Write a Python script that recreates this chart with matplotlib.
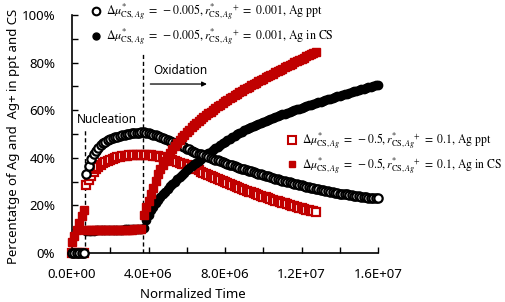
import numpy as np
import matplotlib
matplotlib.use("Agg")
import matplotlib.pyplot as plt
from matplotlib.ticker import FuncFormatter, MultipleLocator
from matplotlib.lines import Line2D

# ---------------- data (percent, sampled every time_step of normalized time) ----------------
time_step = 0.125e6
black_ppt = [0, 0, 0, 0, 0, 0,
             33.0, 36.5, 39.5, 41.5, 43.0, 44.2, 45.3, 46.1, 46.8, 47.3, 47.8, 48.2, 48.6,
             48.9, 49.2, 49.5, 49.7, 49.9, 50.1, 50.3, 50.4, 50.5, 50.6, 50.7, 50.7,
             50.5, 50.3, 50.0, 49.7, 49.4, 49.0, 48.6, 48.2, 47.8, 47.4, 47.0, 46.6, 46.2,
             45.7, 45.3, 44.8, 44.4, 43.9, 43.5, 43.0, 42.6, 42.2, 41.8, 41.4, 41.0, 40.6,
             40.3, 39.9, 39.6, 39.2, 38.9, 38.5, 38.2, 37.8, 37.5, 37.1, 36.8, 36.4, 36.1,
             35.8, 35.5, 35.2, 34.9, 34.6, 34.3, 34.0, 33.7, 33.4, 33.1, 32.8, 32.5, 32.2,
             31.9, 31.6, 31.3, 31.0, 30.7, 30.4, 30.2, 29.9, 29.7, 29.4, 29.2, 28.9, 28.7,
             28.4, 28.2, 27.9, 27.7, 27.4, 27.2, 27.0, 26.8, 26.6, 26.4, 26.2, 26.0, 25.8,
             25.6, 25.4, 25.2, 25.0, 24.9, 24.7, 24.6, 24.4, 24.3, 24.1, 24.0, 23.8, 23.7,
             23.5, 23.4, 23.3, 23.2, 23.1, 23.0, 22.9]
black_cs = [0, 0, 0, 0, 0, 0,
            9.3, 9.35, 9.4, 9.45, 9.5, 9.55, 9.6, 9.6, 9.6, 9.65, 9.7, 9.75, 9.8, 9.8,
            9.8, 9.85, 9.9, 9.95, 10.0, 10.0, 10.0, 10.05, 10.1, 10.2, 10.5,
            13.8, 16.0, 17.9, 19.5, 21.0, 22.3, 23.5, 24.7, 25.8, 26.9, 28.0, 29.0, 30.0,
            31.0, 32.0, 32.9, 33.8, 34.7, 35.6, 36.4, 37.2, 38.0, 38.8, 39.6, 40.4, 41.1,
            41.9, 42.6, 43.3, 44.0, 44.7, 45.4, 46.1, 46.7, 47.4, 48.0, 48.6, 49.2, 49.8,
            50.4, 51.0, 51.5, 52.0, 52.5, 53.0, 53.4, 53.9, 54.3, 54.8, 55.2, 55.6, 56.0,
            56.4, 56.8, 57.2, 57.5, 57.9, 58.2, 58.6, 58.9, 59.3, 59.6, 60.0, 60.3, 60.7,
            61.0, 61.4, 61.7, 62.0, 62.3, 62.7, 63.0, 63.3, 63.6, 63.9, 64.2, 64.6, 64.9,
            65.2, 65.5, 65.8, 66.1, 66.4, 66.7, 67.0, 67.3, 67.6, 67.9, 68.2, 68.5, 68.7,
            69.0, 69.3, 69.6, 69.8, 70.1, 70.4, 70.7]
red_ppt = [0, 0, 0, 0, 0, 0,
           28.5, 30.7, 32.5, 34.0, 35.2, 36.2, 37.0, 37.7, 38.3, 38.8, 39.2, 39.6, 39.9,
           40.2, 40.4, 40.6, 40.8, 40.9, 41.0, 41.1, 41.1, 41.2, 41.2, 41.2, 41.2,
           41.2, 41.1, 41.0, 40.9, 40.8, 40.6, 40.4, 40.2, 40.0, 39.7, 39.4, 39.1, 38.8,
           38.4, 38.0, 37.6, 37.2, 36.8, 36.4, 36.0, 35.6, 35.1, 34.7, 34.2, 33.8, 33.3,
           32.9, 32.4, 32.0, 31.5, 31.1, 30.6, 30.2, 29.7, 29.3, 28.9, 28.5, 28.1, 27.7,
           27.3, 26.9, 26.5, 26.2, 25.8, 25.5, 25.1, 24.8, 24.4, 24.1, 23.7, 23.4, 23.0,
           22.7, 22.3, 22.0, 21.7, 21.4, 21.1, 20.8, 20.5, 20.2, 19.9, 19.6, 19.3, 19.0,
           18.7, 18.5, 18.2, 18.0, 17.7, 17.5, 17.2]
red_cs = [4.5, 7.0, 9.5, 12.5, 15.5, 18.0,
          9.5, 9.5, 9.5, 9.55, 9.6, 9.6, 9.6, 9.65, 9.7, 9.7, 9.7, 9.7, 9.75, 9.75,
          9.8, 9.8, 9.8, 9.8, 9.85, 9.85, 9.9, 9.9, 9.9, 9.95, 16.0,
          19.2, 22.0, 24.8, 27.5, 30.3, 33.0, 35.1, 37.0, 38.8, 40.5, 42.0, 43.5, 44.9,
          46.2, 47.4, 48.6, 49.7, 50.8, 51.8, 52.8, 53.7, 54.6, 55.5, 56.3, 57.1, 57.9,
          58.7, 59.4, 60.2, 60.9, 61.6, 62.3, 63.0, 63.7, 64.4, 65.0, 65.7, 66.3, 66.9,
          67.5, 68.1, 68.7, 69.3, 69.9, 70.5, 71.0, 71.6, 72.1, 72.7, 73.2, 73.8, 74.3,
          74.8, 75.3, 75.9, 76.4, 77.0, 77.5, 78.1, 78.6, 79.1, 79.6, 80.1, 80.6, 81.1,
          81.6, 82.1, 82.6, 83.1, 83.6, 84.1, 84.5]

x_ticks = [0, 4e6, 8e6, 12e6, 16e6]
y_ticks = [0, 20, 40, 60, 80, 100]
nucleation_t = 0.7e6
oxidation_t = 3.72e6

legend_black = [r"$\Delta\mu^{*}_{\mathrm{CS},Ag}\ =\ -0.005, {r^{*}_{\mathrm{CS},Ag}}^{+}\ =\ 0.001$, Ag ppt",
                r"$\Delta\mu^{*}_{\mathrm{CS},Ag}\ =\ -0.005, {r^{*}_{\mathrm{CS},Ag}}^{+}\ =\ 0.001$, Ag in CS"]
legend_red = [r"$\Delta\mu^{*}_{\mathrm{CS},Ag}\ =\ -0.5, {r^{*}_{\mathrm{CS},Ag}}^{+}\ =\ 0.1$, Ag ppt",
              r"$\Delta\mu^{*}_{\mathrm{CS},Ag}\ =\ -0.5, {r^{*}_{\mathrm{CS},Ag}}^{+}\ =\ 0.1$, Ag in CS"]

RED = "#C00000"
plt.rcParams["font.family"] = ["Noto Sans", "DejaVu Sans"]
plt.rcParams["mathtext.fontset"] = "stix"

t_bp = np.arange(len(black_ppt)) * time_step
t_bc = np.arange(len(black_cs)) * time_step
t_rp = np.arange(len(red_ppt)) * time_step
t_rc = np.arange(len(red_cs)) * time_step

fig = plt.figure(figsize=(5.05, 3.02), dpi=100)
ax = fig.add_axes([72/505, 1-253/302, (378-72)/505, (253-15)/302])

ms = 6.0
ax.plot(t_rp, red_ppt, ls="none", marker="s", ms=ms, mfc="white", mec=RED, mew=1.6, clip_on=False, zorder=3)
ax.plot(t_bc, black_cs, ls="none", marker="o", ms=ms, mfc="black", mec="black", mew=1.0, clip_on=False, zorder=4)
ax.plot(t_bp, black_ppt, ls="none", marker="o", ms=ms, mfc="white", mec="black", mew=1.6, clip_on=False, zorder=5)
ax.plot(t_rc, red_cs, ls="none", marker="s", ms=ms, mfc=RED, mec=RED, mew=1.0, clip_on=False, zorder=6)

ax.set_xlim(0, 16e6)
ax.set_ylim(0, 100)
for s in ["top", "right"]:
    ax.spines[s].set_visible(False)
for s in ["left", "bottom"]:
    ax.spines[s].set_linewidth(1.2)
ax.set_xticks(x_ticks)
ax.set_yticks(y_ticks)
ax.xaxis.set_minor_locator(MultipleLocator(2e6))
ax.yaxis.set_minor_locator(MultipleLocator(10))
ax.xaxis.set_major_formatter(FuncFormatter(lambda v, p: "%.1E" % v))
ax.yaxis.set_major_formatter(FuncFormatter(lambda v, p: "%d%%" % v))
ax.tick_params(which="both", direction="in", length=4, width=1.0, labelsize=9.5)
ax.tick_params(axis="x", pad=11)
ax.tick_params(axis="y", pad=12)

# dashed phase lines
ax.plot([nucleation_t, nucleation_t], [0, 52], ls=(0, (3, 2)), color="black", lw=1.0, zorder=2)
ax.plot([oxidation_t, oxidation_t], [0, 84], ls=(0, (3, 2)), color="black", lw=1.0, zorder=2)
ax.text(0.25e6, 56, "Nucleation", fontsize=8.5, ha="left", va="center")
ax.text(4.25e6, 76.5, "Oxidation", fontsize=8.5, ha="left", va="center")
ax.annotate("", xy=(7.2e6, 71), xytext=(3.95e6, 71),
            arrowprops=dict(arrowstyle="-|>", color="black", lw=0.9, mutation_scale=7))

fig.text(14/505, 1-136/302, "Percentatge of Ag and  Ag+ in ppt and CS", rotation=90,
         ha="center", va="center", fontsize=9.5)
fig.text(193/505, 1-295/302, "Normalized Time", ha="center", va="center", fontsize=9.5)

h_black = [Line2D([], [], ls="none", marker="o", ms=5.5, mfc="white", mec="black", mew=1.5),
           Line2D([], [], ls="none", marker="o", ms=5.0, mfc="black", mec="black")]
h_red = [Line2D([], [], ls="none", marker="s", ms=5.5, mfc="white", mec=RED, mew=1.5),
         Line2D([], [], ls="none", marker="s", ms=5.0, mfc=RED, mec=RED)]
leg1 = fig.legend(h_black, legend_black, loc="upper left", bbox_to_anchor=(82/505, 1.022),
                  frameon=False, prop={"family": "STIXGeneral", "size": 8.6}, handletextpad=0.35,
                  labelspacing=0.35, handlelength=1.0, borderpad=0.2)
leg2 = fig.legend(h_red, legend_red, loc="upper left", bbox_to_anchor=(278/505, 1-122/302),
                  frameon=False, prop={"family": "STIXGeneral", "size": 8.4}, handletextpad=0.35,
                  labelspacing=0.35, handlelength=1.0, borderpad=0.2)

fig.savefig("out.png", dpi=100)
